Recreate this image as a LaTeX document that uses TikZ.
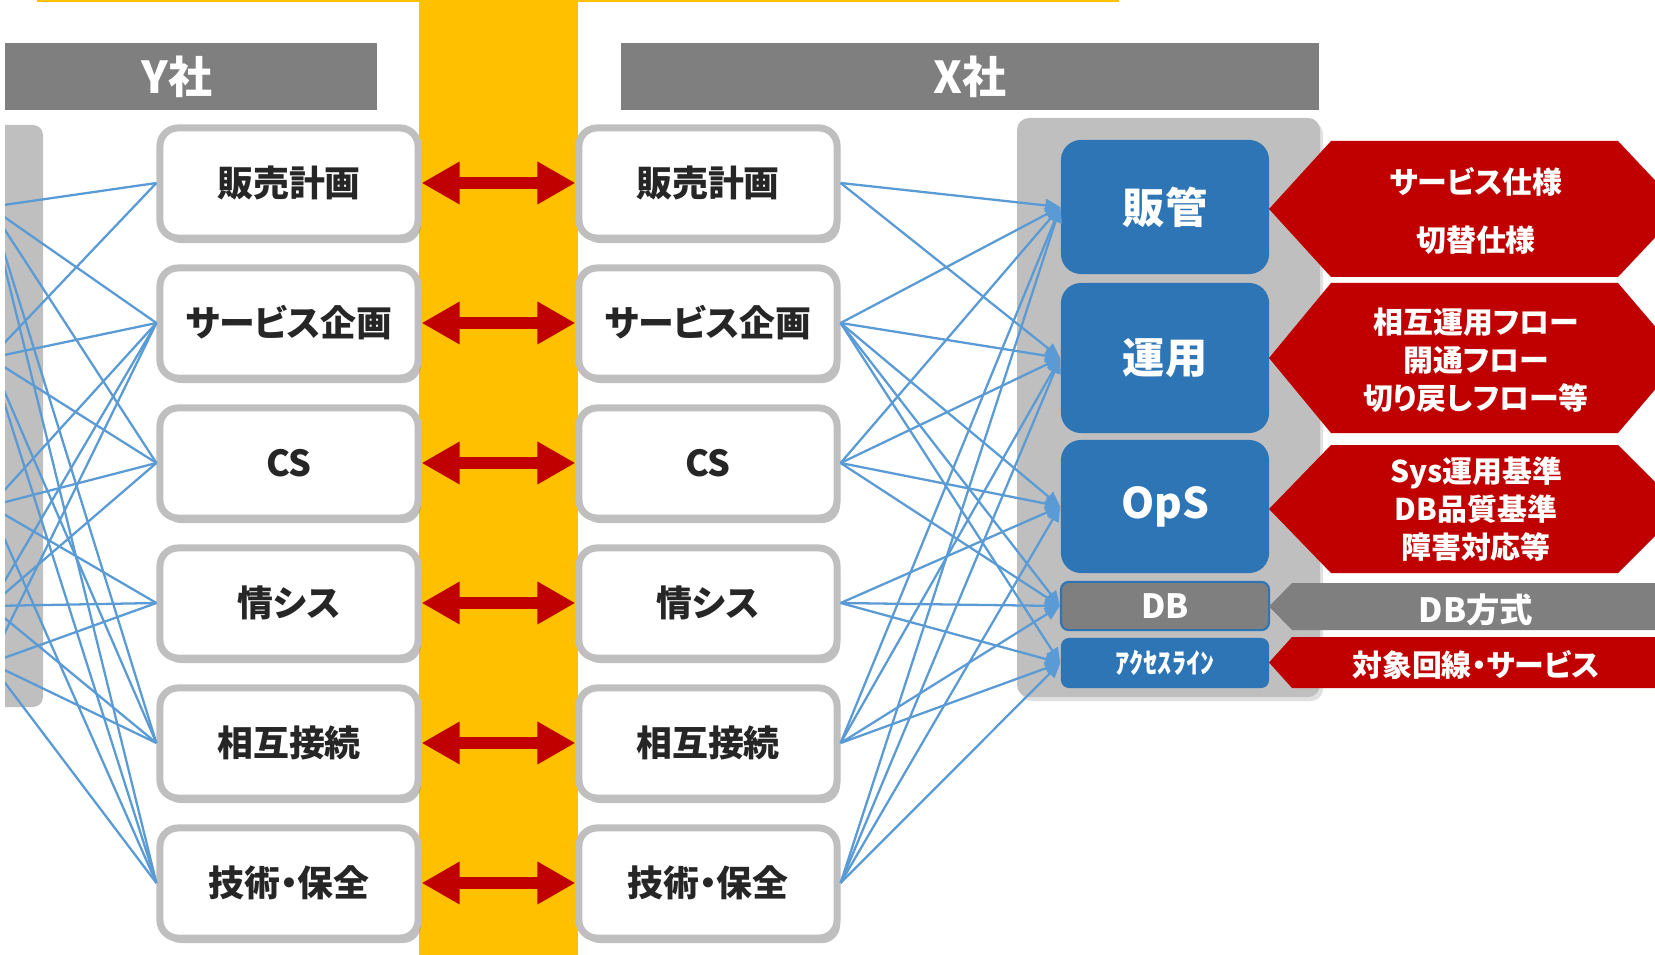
\documentclass[tikz,border=0pt]{standalone}
\usepackage{fontspec}
\setmainfont{Noto Sans CJK JP}[RawFeature=+palt]
\usetikzlibrary{arrows.meta,shadows}

\definecolor{bandyellow}{HTML}{FFC000}
\definecolor{headgray}{HTML}{7F7F7F}
\definecolor{panelgray}{HTML}{BFBFBF}
\definecolor{sysblue}{HTML}{2E75B6}
\definecolor{linkblue}{HTML}{5B9BD5}
\definecolor{specred}{HTML}{C00000}

\tikzset{
  dept/.style={draw=panelgray, line width=2pt, fill=white, rounded corners=0.18cm,
    minimum width=2.58cm, minimum height=1.1cm, text=black!85,
    font=\fontsize{10.2}{12}\selectfont\bfseries,
    drop shadow={shadow xshift=0.03cm, shadow yshift=-0.05cm, fill=black!45, opacity=0.55}},
  sys/.style={fill=sysblue, rounded corners=0.2cm, minimum width=2.08cm, text=white,
    font=\fontsize{12}{14}\selectfont\bfseries},
  spec/.style={text=white, align=center, font=\fontsize{8.5}{10.8}\selectfont\bfseries},
  pairarrow/.style={draw=specred, line width=0.12cm,
    {Triangle[length=0.38cm,width=0.4cm]}-{Triangle[length=0.38cm,width=0.4cm]}},
  link/.style={draw=linkblue, line width=0.65pt},
}

\begin{document}
\begin{tikzpicture}[x=0.01cm, y=-0.01cm]
\useasboundingbox (0,0) rectangle (1655,955);
\clip (0,0) rectangle (1655,955);

% band in the middle
\fill[bandyellow] (37,-5) rectangle (1119,2);
\fill[bandyellow] (419,0) rectangle (578,955);

% Y side, cut off at the left edge
\begin{scope}
  \clip (5,0) rectangle (1655,955);
  \fill[headgray] (-40,43) rectangle (377,110);
  \fill[panelgray, rounded corners=0.1cm] (-40,125) rectangle (43,707);
\end{scope}
\node[text=white, font=\fontsize{12.5}{14}\selectfont\bfseries] (yhead) at (177,77) {Y社};

% X side
\node[fill=headgray, text=white, minimum width=6.98cm, minimum height=0.67cm,
  font=\fontsize{12.5}{14}\selectfont\bfseries] (xhead) at (970,76.5) {X社};
\fill[panelgray, rounded corners=0.12cm,
  drop shadow={shadow xshift=0.03cm, shadow yshift=-0.04cm, fill=black!30, opacity=0.4}]
  (1017,118) rectangle (1320,697);

\node[sys, minimum height=1.34cm] (hk) at (1165,207) {販管};
\node[sys, minimum height=1.5cm] (un) at (1165,358) {運用};
\node[sys, minimum height=1.33cm] (op) at (1165,506.5) {OpS};
\node[sys, fill=headgray, draw=sysblue, line width=0.6pt, rounded corners=0.08cm,
  minimum height=0.48cm, font=\fontsize{9.5}{11}\selectfont\bfseries] (db) at (1165,606) {DB};
\node[sys, rounded corners=0.08cm, minimum height=0.5cm,
  font=\fontsize{8}{10}\selectfont\bfseries] (ac) at (1165,663) {ｱｸｾｽﾗｲﾝ};

% specs
\foreach \t/\b in {141/277, 283/433, 445/573}
  \fill[specred] (1269,{(\t+\b)/2}) -- (1331,\t) -- (1618,\t) -- (1682,{(\t+\b)/2})
    -- (1618,\b) -- (1331,\b) -- cycle;
\fill[headgray] (1269,606.5) -- (1292,583) -- (1700,583) -- (1700,630) -- (1292,630) -- cycle;
\fill[specred] (1269,662.5) -- (1292,637) -- (1700,637) -- (1700,688) -- (1292,688) -- cycle;

\node[spec] (hkspec) at (1476,211) {サービス仕様\\[0.2cm]切替仕様};
\node[spec] (unspec) at (1476,360) {相互運用フロー\\開通フロー\\切り戻しフロー等};
\node[spec] (opspec) at (1476,509) {Sys運用基準\\DB品質基準\\障害対応等};
\node[spec, font=\fontsize{9.5}{11}\selectfont\bfseries] (dbspec) at (1476,610) {DB方式};
\node[spec] (acspec) at (1476,665) {対象回線・サービス};

% departments on both sides
\foreach \lbl [count=\i] in {販売計画, サービス企画, CS, 情シス, 相互接続, 技術・保全} {
  \node[dept] (L\i) at (289,{43+140*\i}) {\lbl};
  \node[dept] (R\i) at (708,{43+140*\i}) {\lbl};
  \draw[pairarrow] (L\i.east) -- (R\i.west);
}

% hidden Y side systems
\foreach \s/\y in {hk/207, un/358, op/506, db/606, ac/663}
  \coordinate (y\s) at (-10,\y);

\begin{scope}
  \clip (5,0) rectangle (1655,955);
  \foreach \i/\tl in {1/{hk,un}, 2/{hk,un,op,db,ac}, 3/{hk,un,op,db},
                      4/{op,db,ac}, 5/{hk,un,db,ac}, 6/{hk,un,op,ac}}
    \foreach \t in \tl {
      \draw[link, -{Triangle[length=0.15cm,width=0.13cm]}] (R\i.east) -- (\t.west);
      \draw[link] (L\i.west) -- (y\t);
    }
\end{scope}
\end{tikzpicture}
\end{document}
